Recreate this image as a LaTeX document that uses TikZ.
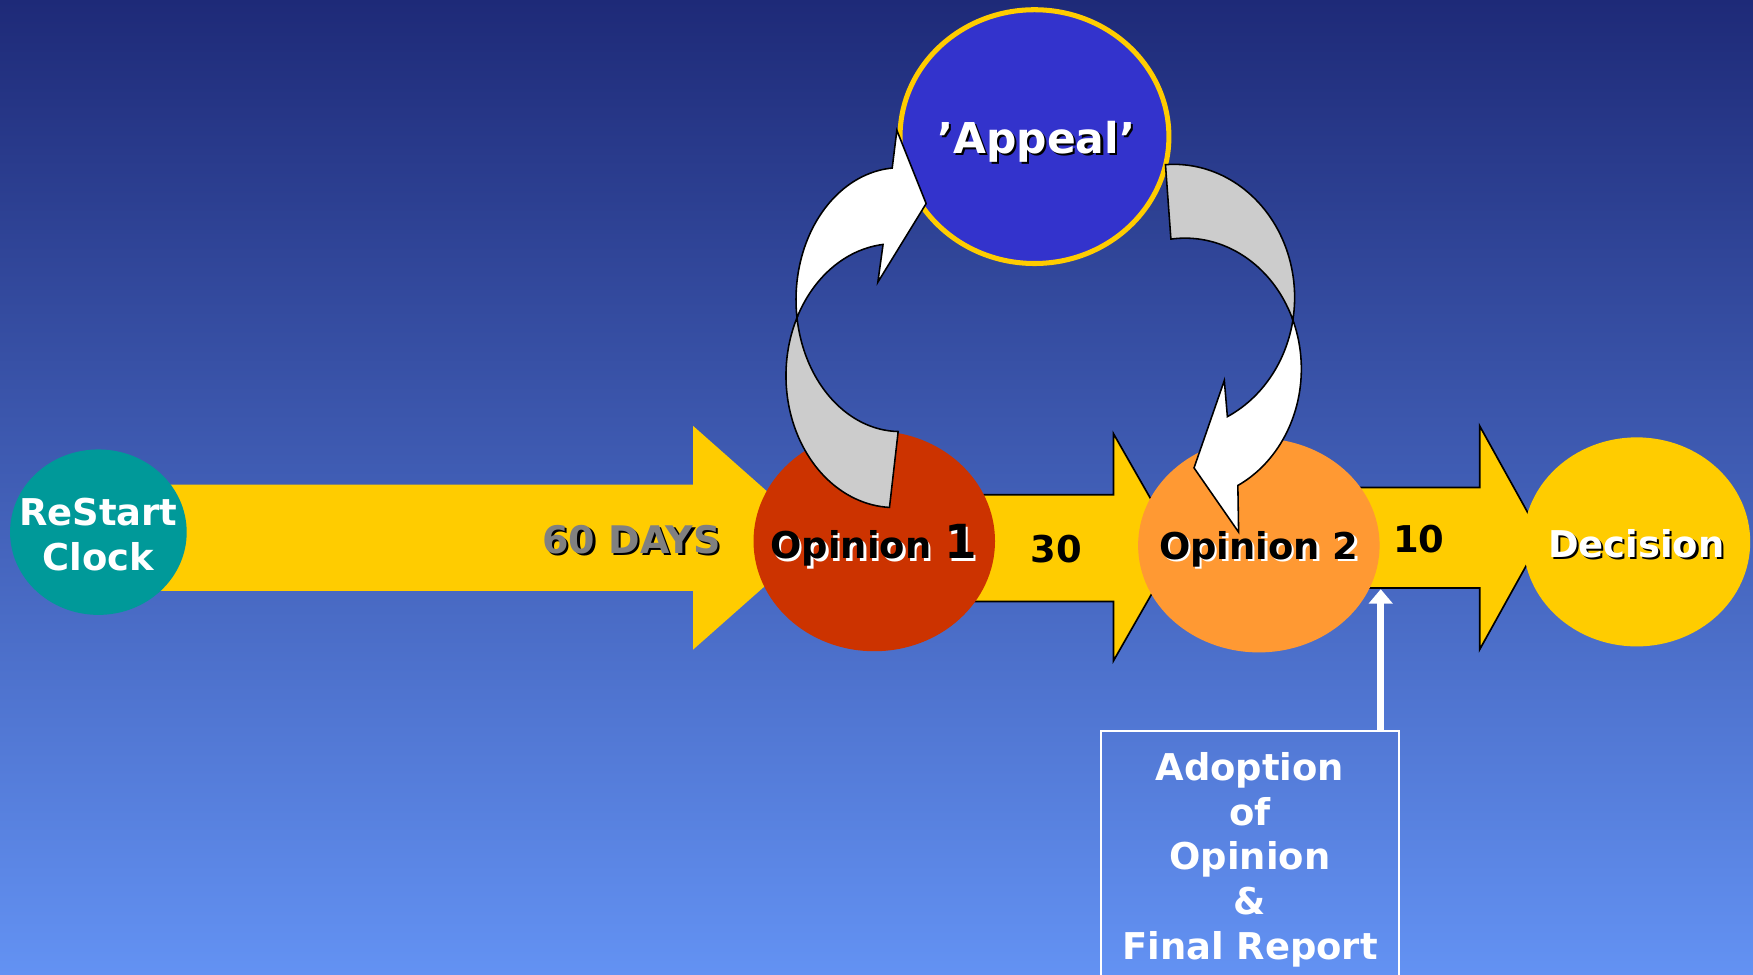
\documentclass[tikz,border=0pt]{standalone}
\usepackage{fontspec}
\setmainfont{DejaVu Sans}
\usetikzlibrary{shapes.geometric,arrows.meta}

\definecolor{skytop}{RGB}{30,42,120}
\definecolor{skymid}{RGB}{66,100,184}
\definecolor{skybot}{RGB}{99,146,243}
\definecolor{sun}{RGB}{255,204,0}
\definecolor{tealblob}{RGB}{0,153,153}
\definecolor{rust}{RGB}{204,51,0}
\definecolor{tangerine}{RGB}{255,153,51}
\definecolor{royal}{RGB}{51,51,204}
\definecolor{ribbonback}{RGB}{204,204,204}
\definecolor{midgray}{RGB}{128,128,128}

% text with a drop shadow: #1 text colour, #2 shadow colour, #3 text
\newcommand\shadowed[3]{\makebox[0pt][l]{\kern2pt\raisebox{-2pt}{\color{#2}#3}}{\color{#1}#3}}

\begin{document}
\begin{tikzpicture}[x=1pt, y=-1pt,
  blob/.style={ellipse, inner sep=0pt, outer sep=0pt},
  lbl/.style={inner sep=0pt, anchor=base, font=\fontsize{33}{40}\selectfont\bfseries},
  block/.style={fill=sun},
  blockline/.style={fill=sun, draw=black, line width=1.5pt, line join=miter},
  band/.style={draw=black, line width=1.4pt, line join=miter}]

\useasboundingbox (0,0) rectangle (1568,872);
\clip (0,0) rectangle (1568,872);

% sky
\shade[top color=skytop, middle color=skymid, bottom color=skybot] (0,0) rectangle (1568,872);

% block arrows of the timeline
\fill[block] (120,433.5) -- (620,433.5) -- (620,381) -- (733,481) -- (620,581) -- (620,528.5) -- (120,528.5) -- cycle;
\filldraw[blockline] (850,442.5) -- (996,442.5) -- (996,388) -- (1054,489.5) -- (996,591) -- (996,538) -- (850,538) -- cycle;
\filldraw[blockline] (1180,436) -- (1323.5,436) -- (1323.5,381) -- (1379,481) -- (1323.5,581) -- (1323.5,526) -- (1180,526) -- cycle;

% stages
\node[blob, fill=tealblob, minimum width=158, minimum height=148] (restart) at (88,476) {};
\node[blob, fill=rust, minimum width=216, minimum height=197] (op1) at (782,484) {};
\node[blob, fill=tangerine, minimum width=216, minimum height=191.5] (op2) at (1126,487.8) {};
\node[blob, fill=sun, minimum width=203, minimum height=187] (decision) at (1464,484.7) {};
\node[blob, fill=royal, draw=sun, line width=4.5pt, minimum width=240.5, minimum height=227] (appeal) at (925.3,122.2) {};

% curved ribbon arrow: Opinion 1 up to the appeal
\filldraw[band, fill=ribbonback]
  plot[domain=206.7:92.6, samples=50] ({800+97*cos(\x)},{336+118*sin(\x)})
  -- plot[domain=91:172.7, samples=50] ({805+93*cos(\x)},{268+118*sin(\x)}) -- cycle;
\filldraw[band, fill=white]
  plot[domain=172.7:265.7, samples=50] ({805+93*cos(\x)},{268+118*sin(\x)})
  -- (802.2,116.6) -- (828.4,182.1) -- (785.2,252.4)
  -- plot[domain=264:206.7, samples=50] ({800+97*cos(\x)},{336+118*sin(\x)}) -- cycle;

% curved ribbon arrow: appeal down to Opinion 2
\filldraw[band, fill=ribbonback]
  plot[domain=-94:9.7, samples=50] ({1050+108*cos(\x)},{266+119*sin(\x)})
  -- plot[domain=-22.1:-97, samples=50] ({1060+104*cos(\x)},{330+117*sin(\x)}) -- cycle;
\filldraw[band, fill=white]
  plot[domain=-22.1:63, samples=50] ({1060+104*cos(\x)},{330+117*sin(\x)})
  -- (1107.9,476) -- (1068,418.5) -- (1095.1,340.3)
  -- plot[domain=63.7:9.7, samples=50] ({1050+108*cos(\x)},{266+119*sin(\x)}) -- cycle;

% adoption box and its pointer
\node[draw=white, line width=2pt, minimum width=266, minimum height=230, inner sep=0pt,
      align=center, text=white, font=\fontsize{33}{40}\selectfont\bfseries]
  (adopt) at (1118,769) {Adoption\\of\\Opinion\\\&\\Final Report};
\coordinate (adopt-tip) at (1235,527);
\draw[white, line width=6pt, -{Triangle[length=13pt, width=21pt]}] (adopt.north -| adopt-tip) -- (adopt-tip);

% labels
\node[lbl, align=center, anchor=center, text=white] (restart-text) at (88,478) {ReStart\\Clock};
\node[lbl, font=\fontsize{34}{40}\selectfont\bfseries] (days-text) at (565,495) {\shadowed{midgray}{black}{60 DAYS}};
\node[lbl] (op1-text) at (781.5,500) {\shadowed{black}{white}{Opinion {\fontsize{42}{42}\selectfont 1}}};
\node[lbl] (thirty) at (945,503.5) {30};
\node[lbl] (op2-text) at (1126,500.3) {\shadowed{black}{white}{Opinion 2}};
\node[lbl] (ten) at (1269,494) {10};
\node[lbl] (decision-text) at (1463.5,498.5) {\shadowed{white}{black}{Decision}};
\node[lbl, font=\fontsize{38}{40}\selectfont\bfseries] (appeal-text) at (926.8,137.1) {\shadowed{white}{black}{’Appeal’}};

\end{tikzpicture}
\end{document}
